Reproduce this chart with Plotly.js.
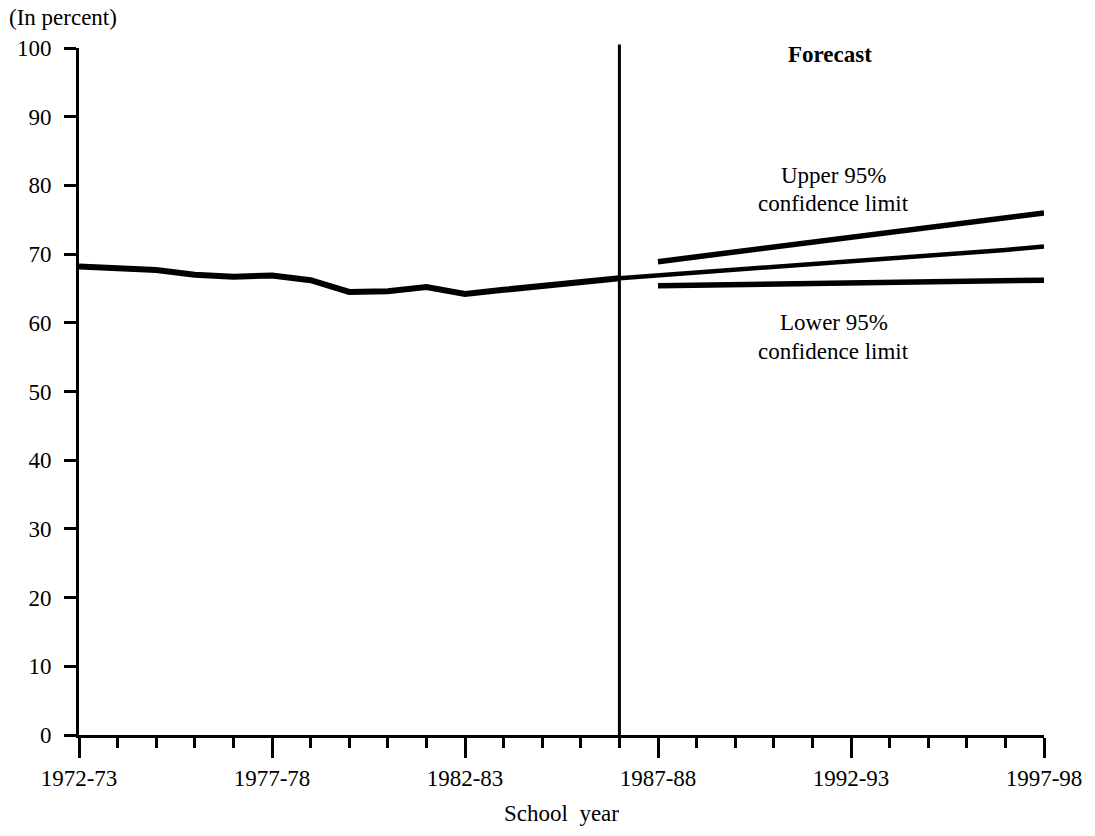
<!DOCTYPE html>
<html>
<head>
<meta charset="utf-8">
<script src="https://cdn.plot.ly/plotly-3.0.1.min.js"></script>
<style>html,body{margin:0;padding:0;background:#fff;}#chart{width:1095px;height:836px;}</style>
</head>
<body>
<div id="chart"></div>
<script>
// School years (categories along the x axis)
const schoolYears = ["1972-73","1973-74","1974-75","1975-76","1976-77","1977-78","1978-79","1979-80",
  "1980-81","1981-82","1982-83","1983-84","1984-85","1985-86","1986-87","1987-88","1988-89",
  "1989-90","1990-91","1991-92","1992-93","1993-94","1994-95","1995-96","1996-97","1997-98"];
const labeledYears = ["1972-73","1977-78","1982-83","1987-88","1992-93","1997-98"];

// Actual values (percent), 1972-73 to 1986-87
const actualYears = ["1972-73","1973-74","1974-75","1975-76","1976-77","1977-78","1978-79","1979-80",
  "1980-81","1981-82","1982-83","1983-84","1984-85","1985-86","1986-87"];
const actualValues = [68.2, 68.0, 67.7, 67.0, 66.7, 66.9, 66.2, 64.5, 64.6, 65.2, 64.2, 64.8, 65.4, 66.0, 66.5];

// Forecast (middle) 1986-87 to 1997-98
const forecastYears = ["1986-87","1987-88","1988-89","1989-90","1990-91","1991-92","1992-93",
  "1993-94","1994-95","1995-96","1996-97","1997-98"];
const forecastValues = [66.5, 66.9, 67.3, 67.7, 68.1, 68.5, 68.9, 69.4, 69.8, 70.2, 70.6, 71.1];

// Confidence limits 1987-88 to 1997-98
const limitYears = ["1987-88","1988-89","1989-90","1990-91","1991-92","1992-93",
  "1993-94","1994-95","1995-96","1996-97","1997-98"];
const upperValues = [68.9, 69.6, 70.3, 71.0, 71.7, 72.4, 73.1, 73.8, 74.5, 75.3, 76.0];
const lowerValues = [65.4, 65.5, 65.6, 65.7, 65.7, 65.8, 65.9, 66.0, 66.0, 66.1, 66.2];

const forecastStart = "1986-87";
const yTicks = [0,10,20,30,40,50,60,70,80,90,100];

const idx = y => schoolYears.indexOf(y);
const FONT = "Liberation Serif";
const FS = 23;
const txt = {family:FONT, size:FS, color:"#000"};

const traces = [
  {x: actualYears.map(idx), y: actualValues, mode:"lines", line:{color:"#000", width:6}, hoverinfo:"skip"},
  {x: forecastYears.map(idx), y: forecastValues, mode:"lines", line:{color:"#000", width:4.5}, hoverinfo:"skip"},
  {x: limitYears.map(idx), y: upperValues, mode:"lines", line:{color:"#000", width:5.5}, hoverinfo:"skip"},
  {x: limitYears.map(idx), y: lowerValues, mode:"lines", line:{color:"#000", width:5.5}, hoverinfo:"skip"}
];

const fx = idx(forecastStart);
const layout = {
  width:1095, height:836,
  margin:{l:79, r:51, t:48, b:101},
  paper_bgcolor:"#fff", plot_bgcolor:"#fff",
  showlegend:false,
  font:txt,
  xaxis:{
    range:[0, schoolYears.length-1],
    tickmode:"array",
    tickvals: labeledYears.map(idx),
    ticktext: labeledYears,
    ticks:"outside", ticklen:20, tickwidth:3, tickcolor:"#000",
    minor:{tickmode:"linear", tick0:0, dtick:1, ticks:"outside", ticklen:10, tickwidth:3, tickcolor:"#000", showgrid:false},
    showline:true, linecolor:"#000", linewidth:3,
    showgrid:false, zeroline:false,
    ticklabelstandoff:0,
    tickfont:txt,
    title:{text:"School  year", standoff:16, font:txt}
  },
  yaxis:{
    range:[0,100],
    tickmode:"array", tickvals:yTicks, ticktext:yTicks.map(String),
    ticks:"outside", ticklen:12, tickwidth:3, tickcolor:"#000",
    showline:true, linecolor:"#000", linewidth:3,
    showgrid:false, zeroline:false,
    ticklabelstandoff:8,
    tickfont:txt
  },
  shapes:[
    {type:"line", xref:"x", yref:"paper", x0:fx, x1:fx, y0:0, y1:1.005, line:{color:"#000", width:3}}
  ],
  annotations:[
    {xref:"paper", yref:"paper", x:-0.075, y:1.045, xanchor:"left", yanchor:"middle", showarrow:false,
     text:"(In percent)", font:txt},
    {xref:"x", yref:"y", x:19.45, y:99.0, xanchor:"center", yanchor:"middle", showarrow:false,
     text:"<b>Forecast</b>", font:txt},
    {xref:"x", yref:"y", x:19.55, y:81.5, xanchor:"center", yanchor:"middle", showarrow:false,
     text:"Upper 95%", font:txt},
    {xref:"x", yref:"y", x:19.55, y:77.4, xanchor:"center", yanchor:"middle", showarrow:false,
     text:"confidence limit", font:txt},
    {xref:"x", yref:"y", x:19.55, y:60.0, xanchor:"center", yanchor:"middle", showarrow:false,
     text:"Lower 95%", font:txt},
    {xref:"x", yref:"y", x:19.55, y:55.8, xanchor:"center", yanchor:"middle", showarrow:false,
     text:"confidence limit", font:txt}
  ]
};

Plotly.newPlot("chart", traces, layout, {displayModeBar:false, staticPlot:true});
</script>
</body>
</html>
